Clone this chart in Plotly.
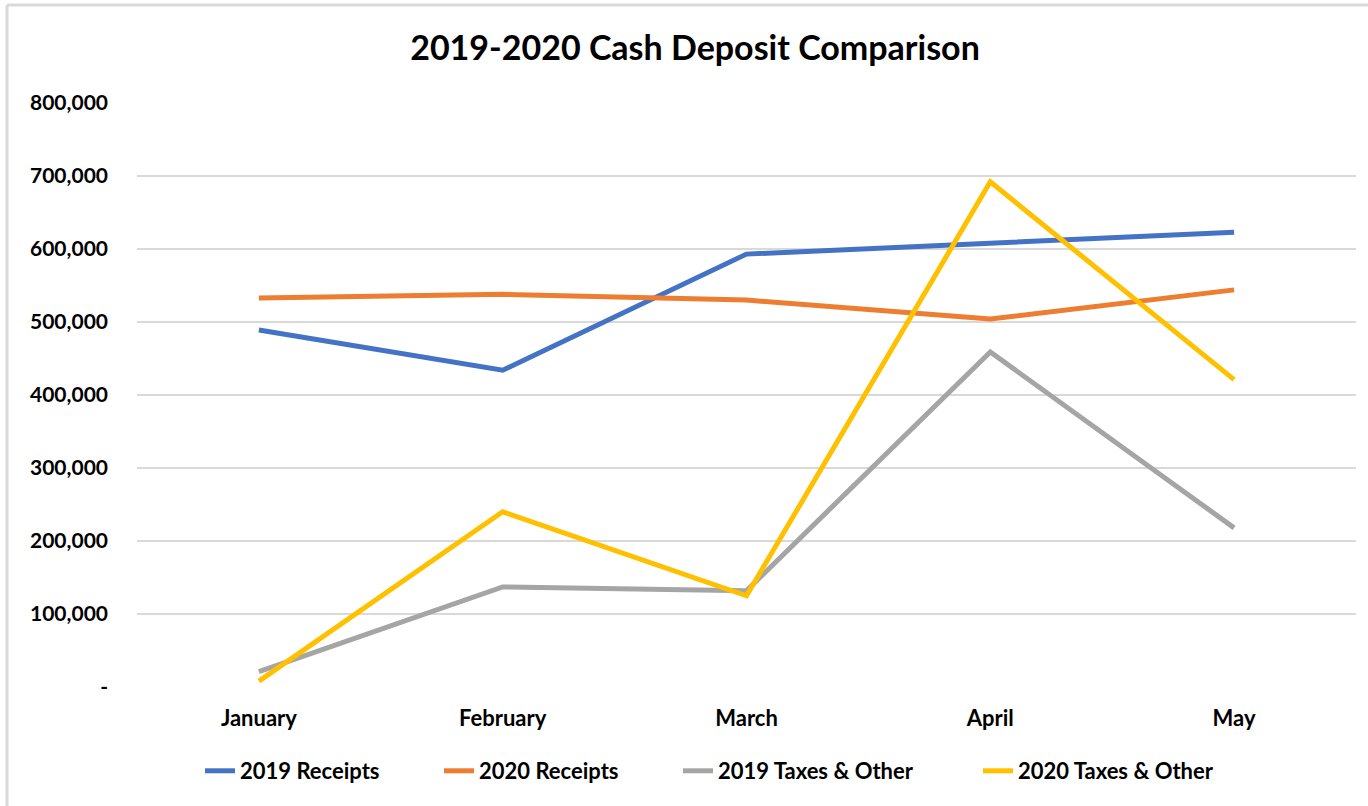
import plotly.graph_objects as go

months = ["January", "February", "March", "April", "May"]
receipts_2019 = [489000, 434000, 593000, 608000, 623000]
receipts_2020 = [533000, 538000, 530000, 504000, 544000]
taxes_2019 = [21000, 137000, 132000, 459000, 218000]
taxes_2020 = [8000, 240000, 125000, 692000, 421000]

tick_vals = [0, 100000, 200000, 300000, 400000, 500000, 600000, 700000, 800000]
tick_text = ["-", "100,000", "200,000", "300,000", "400,000", "500,000", "600,000", "700,000", "800,000"]

series = [
    ("2019 Receipts", receipts_2019, "#4472C4"),
    ("2020 Receipts", receipts_2020, "#ED7D31"),
    ("2019 Taxes & Other", taxes_2019, "#A5A5A5"),
    ("2020 Taxes & Other", taxes_2020, "#FFC000"),
]
# legend text left edges (px) in the layout
legend_text_x = [242, 481, 720, 1020]

FONT = "Lato"
W, H = 1368, 806
L, R, T, B = 137, 12, 103, 119
pw, ph = W - L - R, H - T - B


def px(x):
    return (x - L) / pw


def py(y):
    return (H - B - y) / ph


fig = go.Figure()
legend_layouts = {}
for i, (name, vals, color) in enumerate(series):
    lg = "legend" if i == 0 else f"legend{i + 1}"
    fig.add_trace(go.Scatter(x=months, y=vals, name=name, mode="lines",
                             line=dict(color=color, width=5), legend=lg))
    legend_layouts[lg] = dict(
        orientation="h", x=px(legend_text_x[i] - 42), xanchor="left",
        y=py(771), yanchor="middle", bgcolor="rgba(0,0,0,0)",
        font=dict(size=22, family=FONT, color="black", weight="bold"),
    )

fig.update_layout(
    width=W, height=H,
    margin=dict(l=L, r=R, t=T, b=B),
    paper_bgcolor="white", plot_bgcolor="white",
    font=dict(family=FONT, color="black"),
    title=dict(text="<b>2019-2020 Cash Deposit Comparison</b>",
               x=695 / W, xref="container", xanchor="center",
               y=1 - 48 / H, yref="container", yanchor="middle",
               font=dict(size=34, family=FONT, color="black")),
    xaxis=dict(range=[-0.5, 4.5], showgrid=False, showline=False, zeroline=False, ticks="",
               tickfont=dict(size=22, family=FONT, color="black", weight="bold"),
               ticklabelstandoff=16),
    yaxis=dict(range=[0, 800000], tickvals=tick_vals, ticktext=tick_text,
               showgrid=True, gridcolor="#D9D9D9", gridwidth=1.5,
               zeroline=False, showline=False, ticks="",
               tickfont=dict(size=21, family=FONT, color="black", weight="bold"),
               ticklabelstandoff=28),
    showlegend=True,
    shapes=[
        dict(type="line", xref="paper", yref="paper",
             x0=px(7), x1=px(7), y0=py(810), y1=py(5),
             line=dict(color="#D9D9D9", width=3)),
        dict(type="line", xref="paper", yref="paper",
             x0=px(7), x1=px(1370), y0=py(5), y1=py(5),
             line=dict(color="#D9D9D9", width=3)),
    ],
    **legend_layouts,
)

fig.write_html("out.html")
